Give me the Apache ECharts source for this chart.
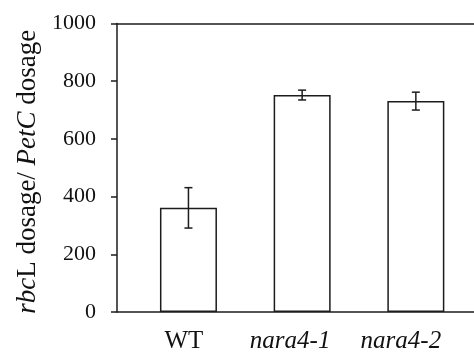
<!DOCTYPE html>
<html>
<head>
<meta charset="utf-8">
<style>
  html, body { margin: 0; padding: 0; background: #fff; }
  #chart { width: 474px; height: 352px; }
</style>
<script src="https://cdn.jsdelivr.net/npm/echarts@6/dist/echarts.min.js"></script>
</head>
<body>
<div id="chart"></div>
<script>
// Genotypes, mean dosage ratio and its error (±)
const categories = ['WT', 'nara4-1', 'nara4-2'];
const dosage = [361, 752, 731];
const errors = [70, 17, 31];
const yTicks = { min: 0, max: 1000, interval: 200 };

const serif = 'Liberation Serif, serif';
const ink = '#1c1c1c';
const text = '#111';

const chart = echarts.init(document.getElementById('chart'), null, { renderer: 'canvas' });

const plotTop = 23.5, plotBottom = 40;
// right padding nudges each genotype label slightly left of its bar centre
const labelStyles = ['wt', 'm1', 'm2'];
const xFont = 25;

chart.setOption({
  animation: false,
  backgroundColor: '#fff',
  textStyle: { fontFamily: serif },
  grid: [
    // frame grid: axis lines, ticks and tick labels
    { left: 117, right: 0, top: plotTop, bottom: plotBottom, containLabel: false, outerBoundsMode: 'none' },
    // bar grid: the three genotypes
    { left: 131.6, width: 341.1, top: plotTop, bottom: plotBottom, containLabel: false, outerBoundsMode: 'none' }
  ],
  xAxis: [
    { gridIndex: 0, type: 'value', min: 0, max: 1, position: 'bottom',
      axisLine: { show: true, lineStyle: { color: ink, width: 1.5 } },
      axisTick: { show: false }, axisLabel: { show: false }, splitLine: { show: false } },
    { gridIndex: 0, type: 'value', min: 0, max: 1, position: 'top',
      axisLine: { show: true, lineStyle: { color: ink, width: 1.5 } },
      axisTick: { show: false }, axisLabel: { show: false }, splitLine: { show: false } },
    { gridIndex: 1, type: 'category', data: categories, position: 'bottom',
      axisLine: { show: false }, axisTick: { show: false },
      axisLabel: {
        interval: 0, hideOverlap: false,
        margin: 17,
        fontFamily: serif, fontSize: xFont, color: text,
        formatter: function (v, i) {
          return '{' + labelStyles[i] + '|' + v + '}';
        },
        rich: {
          wt: { fontFamily: serif, fontSize: xFont, color: text, padding: [0, 9, 0, 0] },
          m1: { fontFamily: serif, fontSize: xFont, fontStyle: 'italic', color: text, padding: [0, 24, 0, 0] },
          m2: { fontFamily: serif, fontSize: xFont, fontStyle: 'italic', color: text, padding: [0, 30, 0, 0] }
        }
      } }
  ],
  yAxis: [
    { gridIndex: 0, type: 'value', min: yTicks.min, max: yTicks.max, interval: yTicks.interval,
      axisLine: { show: true, lineStyle: { color: ink, width: 1.5 } },
      axisTick: { show: true, inside: false, length: 6, lineStyle: { color: ink, width: 1.5 } },
      axisLabel: { margin: 21, fontFamily: serif, fontSize: 22, color: text,
        formatter: function (v) { return String(v); } },
      splitLine: { show: false },
      name: '{it|rbc}L dosage/ {it|PetC} dosage',
      nameLocation: 'middle', nameRotate: 90, nameGap: 76,
      nameTextStyle: {
        fontFamily: serif, fontSize: 27, color: text,
        padding: [0, 8, 0, 0],
        rich: {
          it: { fontFamily: serif, fontSize: 27, fontStyle: 'italic', color: text }
        }
      } },
    { gridIndex: 1, type: 'value', min: yTicks.min, max: yTicks.max, interval: yTicks.interval, show: false }
  ],
  series: [
    {
      type: 'bar', xAxisIndex: 2, yAxisIndex: 1,
      data: dosage, barWidth: 57,
      itemStyle: { color: '#fff', borderColor: ink, borderWidth: 1.5 }
    },
    {
      type: 'custom', xAxisIndex: 2, yAxisIndex: 1,
      data: dosage.map((v, i) => [i, v - errors[i], v + errors[i]]),
      renderItem: function (params, api) {
        const lo = api.coord([api.value(0), api.value(1)]);
        const hi = api.coord([api.value(0), api.value(2)]);
        const cap = 4;
        const style = { stroke: ink, lineWidth: 1.5 };
        return {
          type: 'group',
          children: [
            { type: 'line', shape: { x1: hi[0], y1: hi[1], x2: lo[0], y2: lo[1] }, style: style },
            { type: 'line', shape: { x1: hi[0] - cap, y1: hi[1], x2: hi[0] + cap, y2: hi[1] }, style: style },
            { type: 'line', shape: { x1: lo[0] - cap, y1: lo[1], x2: lo[0] + cap, y2: lo[1] }, style: style }
          ]
        };
      },
      z: 3
    }
  ]
});
</script>
</body>
</html>
